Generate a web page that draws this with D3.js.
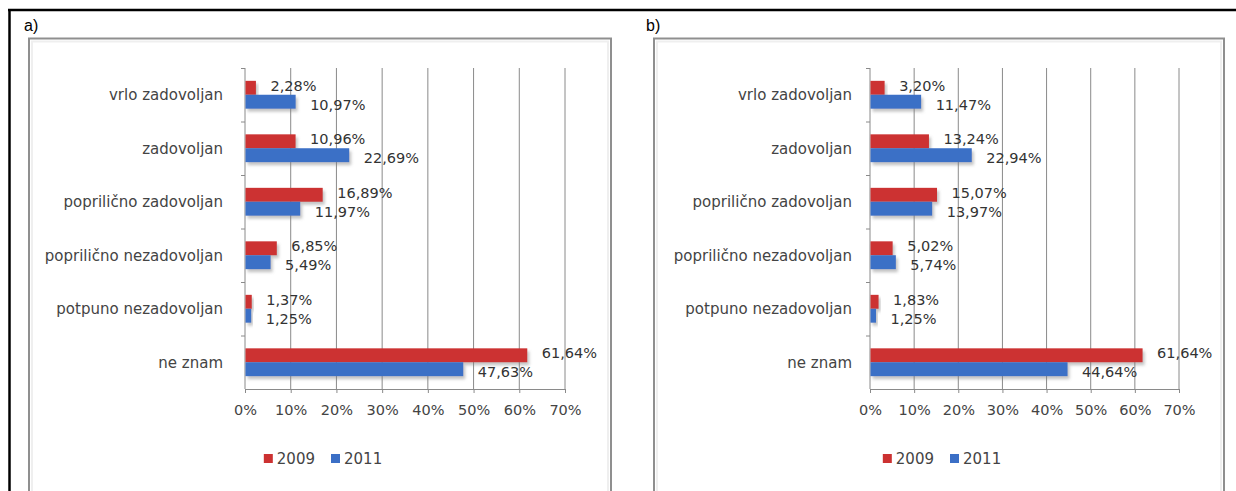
<!DOCTYPE html>
<html>
<head>
<meta charset="utf-8">
<script src="https://cdn.jsdelivr.net/npm/d3@7"></script>
<style>
  body { margin: 0; background: #fff; }
  svg { display: block; }
</style>
</head>
<body>
<div id="chart"></div>
<script>
// Data
const categories = ["vrlo zadovoljan", "zadovoljan", "poprilično zadovoljan",
    "poprilično nezadovoljan", "potpuno nezadovoljan", "ne znam"];
const years = ["2009", "2011"];
const panelA2009 = [2.28, 10.96, 16.89, 6.85, 1.37, 61.64];
const panelA2011 = [10.97, 22.69, 11.97, 5.49, 1.25, 47.63];
const panelB2009 = [3.20, 13.24, 15.07, 5.02, 1.83, 61.64];
const panelB2011 = [11.47, 22.94, 13.97, 5.74, 1.25, 44.64];
const xTicks = [0, 10, 20, 30, 40, 50, 60, 70];
const panelNames = ["a)", "b)"];

const colors = { "2009": "#cc3131", "2011": "#3b6fc6" };
const font = "'DejaVu Sans', sans-serif";

const W = 1236, H = 491;
const svg = d3.select("#chart").append("svg")
    .attr("width", W).attr("height", H);

// soft shadow under the bars
const defs = svg.append("defs");
const shadow = defs.append("filter").attr("id", "barShadow")
    .attr("x", "-10%").attr("y", "-30%").attr("width", "130%").attr("height", "180%");
shadow.append("feDropShadow")
    .attr("dx", 2).attr("dy", 3).attr("stdDeviation", 1.6)
    .attr("flood-color", "#7a7a7a").attr("flood-opacity", 0.45);

// outer black border (top + left)
svg.append("line").attr("x1", 8).attr("x2", W).attr("y1", 10).attr("y2", 10)
    .attr("stroke", "#000").attr("stroke-width", 2.5);
svg.append("line").attr("x1", 9.5).attr("x2", 9.5).attr("y1", 9).attr("y2", H)
    .attr("stroke", "#000").attr("stroke-width", 2.5);

const panels = [
    { name: panelNames[0], v2009: panelA2009, v2011: panelA2011,
      labelX: 24, frameL: 29, frameR: 611, plotL: 245, plotR: 565, catGap: 22 },
    { name: panelNames[1], v2009: panelB2009, v2011: panelB2011,
      labelX: 646, frameL: 654, frameR: 1224, plotL: 870, plotR: 1179, catGap: 18 }
];

const plotTop = 68, plotBottom = 389;
const fmt = v => d3.format(".2f")(v).replace(".", ",") + "%";

panels.forEach(p => drawPanel(p));

function drawPanel(p) {
    // panel letter
    svg.append("text")
        .attr("x", p.labelX).attr("y", 31)
        .style("font-family", "'Liberation Sans', Arial, sans-serif")
        .style("font-size", "16px")
        .style("fill", "#000")
        .text(p.name);

    // chart frame
    svg.append("rect")
        .attr("x", p.frameL).attr("y", 38.5)
        .attr("width", p.frameR - p.frameL).attr("height", H)
        .attr("fill", "#fff")
        .attr("stroke", "#8f8f8f").attr("stroke-width", 2);
    svg.append("rect")
        .attr("x", p.frameL + 3).attr("y", 41.5)
        .attr("width", p.frameR - p.frameL - 6).attr("height", H)
        .attr("fill", "none")
        .attr("stroke", "#efefef").attr("stroke-width", 2);

    const x = d3.scaleLinear().domain([0, 70]).range([p.plotL, p.plotR]);
    const y = d3.scaleBand().domain(categories).range([plotTop, plotBottom])
        .paddingInner(0.48).paddingOuter(0.24);
    const outer = d3.scaleBand().domain(categories).range([plotTop, plotBottom]);
    const sub = d3.scaleBand().domain(years).range([0, y.bandwidth()]);

    const g = svg.append("g");

    // vertical gridlines
    g.selectAll(".grid")
        .data(xTicks.slice(1))
        .enter().append("line")
        .attr("x1", d => x(d)).attr("x2", d => x(d))
        .attr("y1", plotTop).attr("y2", plotBottom)
        .attr("stroke", "#8a8a8a").attr("stroke-width", 1);

    // x axis
    const xAxis = d3.axisBottom(x).tickValues(xTicks)
        .tickFormat(d => d + "%").tickSizeInner(4).tickSizeOuter(0).tickPadding(12);
    const gx = g.append("g")
        .attr("transform", `translate(0, ${plotBottom})`)
        .call(xAxis);
    gx.select(".domain").attr("stroke", "#8a8a8a");
    gx.selectAll(".tick line").attr("stroke", "#8a8a8a");
    gx.selectAll("text")
        .style("font-family", font).style("font-size", "14.5px").style("fill", "#444");

    // y axis: ticks at band boundaries
    g.append("line")
        .attr("x1", x(0)).attr("x2", x(0)).attr("y1", plotTop).attr("y2", plotBottom)
        .attr("stroke", "#8a8a8a");
    g.selectAll(".ytick")
        .data(categories)
        .enter().append("line")
        .attr("x1", x(0) - 4).attr("x2", x(0))
        .attr("y1", d => outer(d) + 0.5).attr("y2", d => outer(d) + 0.5)
        .attr("stroke", "#8a8a8a");

    // category labels
    g.selectAll(".cat")
        .data(categories)
        .enter().append("text")
        .attr("x", x(0) - p.catGap)
        .attr("y", d => outer(d) + outer.bandwidth() / 2)
        .attr("dy", "0.35em")
        .attr("text-anchor", "end")
        .style("font-family", font).style("font-size", "15px").style("fill", "#444")
        .text(d => d);

    // bars
    const rows = [];
    categories.forEach((c, i) => {
        rows.push({ cat: c, year: "2009", value: p.v2009[i] });
        rows.push({ cat: c, year: "2011", value: p.v2011[i] });
    });

    g.selectAll(".bar")
        .data(rows)
        .enter().append("rect")
        .attr("x", x(0) + 0.5)
        .attr("y", d => y(d.cat) + sub(d.year))
        .attr("width", d => x(d.value) - x(0))
        .attr("height", sub.bandwidth())
        .attr("fill", d => colors[d.year])
        .attr("filter", "url(#barShadow)");

    // value labels
    g.selectAll(".val")
        .data(rows)
        .enter().append("text")
        .attr("x", d => x(d.value) + 15)
        .attr("y", d => y(d.cat) + sub(d.year) + sub.bandwidth() / 2 + (d.year === "2009" ? -2 : 3))
        .attr("dy", "0.35em")
        .style("font-family", font).style("font-size", "14.5px").style("fill", "#333")
        .text(d => fmt(d.value));

    // legend, centred under the frame
    const legend = svg.append("g");
    let cx = 0;
    years.forEach(yr => {
        const item = legend.append("g");
        item.append("rect").attr("x", 0).attr("y", -4.5).attr("width", 9).attr("height", 9)
            .attr("fill", colors[yr]);
        const t = item.append("text").attr("x", 13).attr("dy", "0.35em")
            .style("font-family", font).style("font-size", "15px").style("fill", "#444")
            .text(yr);
        const w = 13 + t.node().getComputedTextLength();
        item.attr("transform", `translate(${cx}, 0)`);
        cx += w + 16;
    });
    const totalW = cx - 16;
    const center = (p.frameL + p.frameR) / 2 + 3;
    legend.attr("transform", `translate(${center - totalW / 2}, 458.5)`);
}
</script>
</body>
</html>
